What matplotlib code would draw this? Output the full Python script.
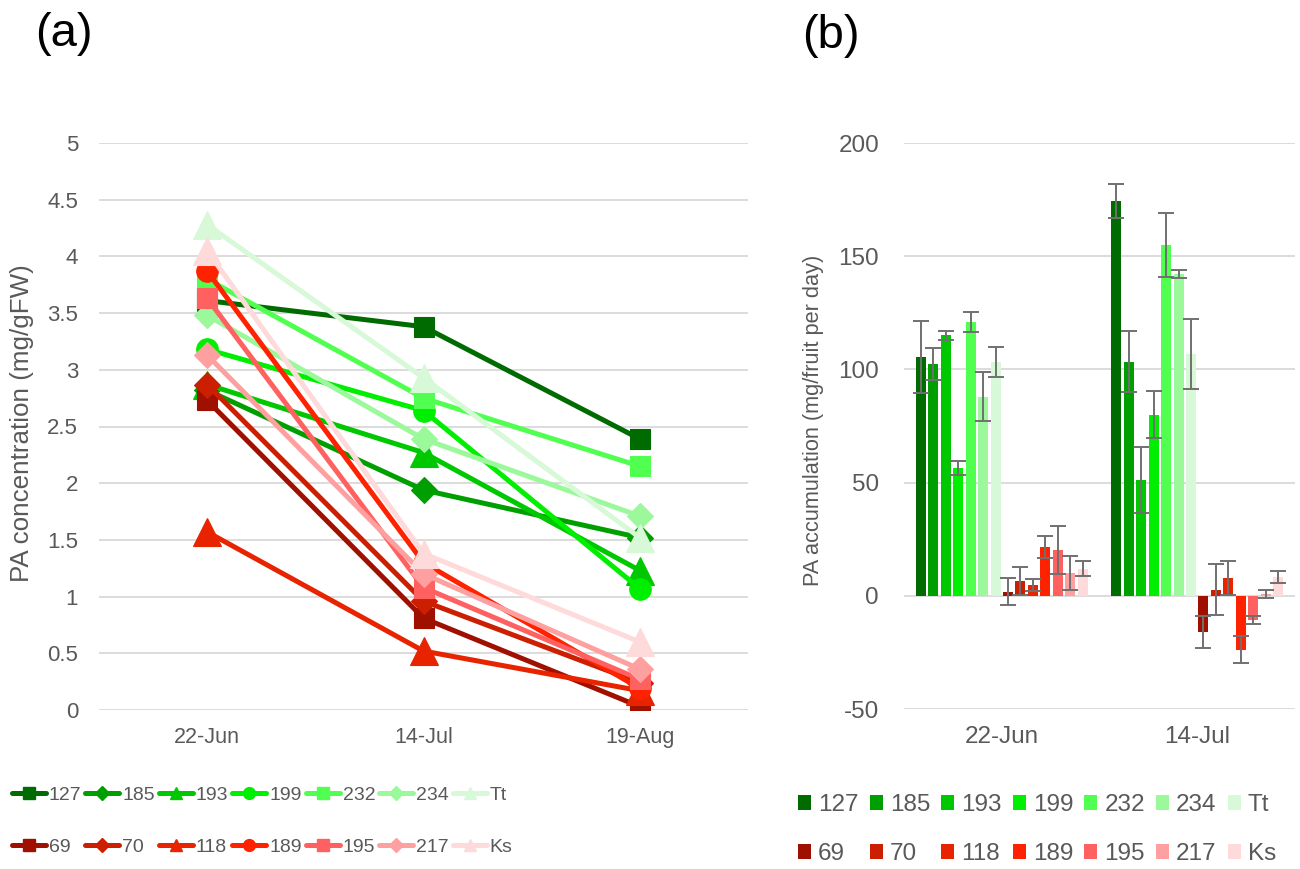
import matplotlib
matplotlib.use("Agg")
import matplotlib.pyplot as plt
from matplotlib.lines import Line2D
from matplotlib.patches import Patch
from matplotlib import font_manager
import numpy as np

plt.rcParams['font.family'] = ['Liberation Sans', 'DejaVu Sans']
plt.rcParams['axes.unicode_minus'] = False

# ---------------- data ----------------
dates_a = ['22-Jun', '14-Jul', '19-Aug']
dates_b = ['22-Jun', '14-Jul']

green_names = ['127', '185', '193', '199', '232', '234', 'Tt']
red_names = ['69', '70', '118', '189', '195', '217', 'Ks']

green_colors = ['#006B00', '#009F00', '#00C800', '#00EE00', '#50FF50', '#9BF89B', '#D7F9D7']
red_colors = ['#A01000', '#CC1E00', '#E82300', '#FF2200', '#FF6060', '#FFA0A0', '#FFDADA']
markers = ['s', 'D', '^', 'o', 's', 'D', '^']

# (a) PA concentration (mg/gFW)
conc_green = [
    [3.61, 3.38, 2.39],   # 127
    [2.82, 1.94, 1.52],   # 185
    [2.87, 2.27, 1.23],   # 193
    [3.18, 2.64, 1.07],   # 199
    [3.80, 2.75, 2.15],   # 232
    [3.48, 2.39, 1.71],   # 234
    [4.28, 2.93, 1.52],   # Tt
]
conc_red = [
    [2.73, 0.81, 0.03],   # 69
    [2.87, 0.96, 0.24],   # 70
    [1.57, 0.52, 0.17],   # 118
    [3.87, 1.30, 0.19],   # 189
    [3.63, 1.08, 0.27],   # 195
    [3.13, 1.20, 0.36],   # 217
    [4.05, 1.38, 0.60],   # Ks
]

# (b) PA accumulation (mg/fruit per day): [22-Jun, 14-Jul]
acc_green = [
    [105.5, 174.5],
    [102.4, 103.3],
    [115.0, 51.2],
    [56.5, 80.0],
    [121.0, 155.0],
    [88.0, 142.2],
    [103.3, 106.8],
]
err_green = [
    [16.0, 7.5],
    [7.0, 13.5],
    [2.0, 14.6],
    [3.0, 10.3],
    [4.5, 14.2],
    [11.0, 1.8],
    [6.5, 15.6],
]
acc_red = [
    [1.8, -15.9],
    [6.6, 2.6],
    [4.8, 7.9],
    [21.6, -23.8],
    [20.3, -10.6],
    [10.1, 0.8],
    [11.9, 8.4],
]
err_red = [
    [6.0, 7.0],
    [6.3, 11.3],
    [2.7, 7.5],
    [5.0, 6.0],
    [10.6, 1.8],
    [7.5, 1.8],
    [3.3, 2.6],
]

# ---------------- styling ----------------
TXT = '#595959'
GRID = '#D9D9D9'
W, H = 1300, 869

ms_map = {'s': 15, 'D': 13, '^': 19.5, 'o': 15.5}
ms_leg = {'s': 8, 'D': 7.5, '^': 9, 'o': 8.5}

fig = plt.figure(figsize=(13, 8.69), dpi=100)

# ---------- panel (a) ----------
axa = fig.add_axes([99 / W, 1 - 710 / H, 649 / W, 567 / H])
xa = np.arange(len(dates_a))
names_all = green_names + red_names
colors_all = green_colors + red_colors
conc_all = conc_green + conc_red
marks_all = markers + markers
for name, col, mk, vals in zip(names_all, colors_all, marks_all, conc_all):
    axa.plot(xa, vals, color=col, lw=3.6, marker=mk, ms=ms_map[mk],
             mfc=col, mec=col, mew=0.8, solid_joinstyle='round', zorder=3)
axa.set_xlim(-0.5, len(dates_a) - 0.5)
axa.set_ylim(0, 5)
axa.set_yticks(np.arange(0, 5.01, 0.5))
axa.set_yticklabels(['0', '0.5', '1', '1.5', '2', '2.5', '3', '3.5', '4', '4.5', '5'])
axa.set_xticks(xa)
axa.set_xticklabels(dates_a)
axa.yaxis.grid(True, color=GRID, lw=1.3)
axa.set_axisbelow(True)
for s in axa.spines.values():
    s.set_visible(False)
axa.tick_params(axis='y', length=0, labelsize=16, labelcolor=TXT, pad=15)
axa.tick_params(axis='x', length=0, labelsize=15.5, labelcolor=TXT, pad=12)
fig.text(22 / W, 1 - 423 / H, 'PA concentration (mg/gFW)', rotation=90,
         ha='center', va='center', fontsize=18.7, color=TXT)

# ---------- panel (b) ----------
axb = fig.add_axes([904 / W, 1 - 709 / H, 391 / W, 566 / H])
xb = np.arange(len(dates_b))
acc_all = acc_green + acc_red
err_all = err_green + err_red
slot = 0.0637
bw = 0.051
n = len(acc_all)
for i, (col, vals, errs) in enumerate(zip(colors_all, acc_all, err_all)):
    pos = xb + (i - (n - 1) / 2) * slot
    axb.bar(pos, vals, width=bw, color=col, zorder=2)
    axb.errorbar(pos, vals, yerr=errs, fmt='none', ecolor='#707070',
                 elinewidth=1.4, capsize=5.5, capthick=1.4, zorder=3)
axb.set_xlim(-0.5, len(dates_b) - 0.5)
axb.set_ylim(-50, 200)
axb.set_yticks([-50, 0, 50, 100, 150, 200])
axb.set_xticks(xb)
axb.set_xticklabels(dates_b)
axb.yaxis.grid(True, color=GRID, lw=1.3)
axb.set_axisbelow(True)
for s in axb.spines.values():
    s.set_visible(False)
axb.tick_params(axis='y', length=0, labelsize=17.5, labelcolor=TXT, pad=18)
axb.tick_params(axis='x', length=0, labelsize=17.5, labelcolor=TXT, pad=12)
fig.text(814 / W, 1 - 420 / H, 'PA accumulation (mg/fruit per day)', rotation=90,
         ha='center', va='center', fontsize=15.7, color=TXT)

# ---------- panel labels ----------
fig.text(35 / W, 1 - 34 / H, '(a)', ha='left', va='center', fontsize=34, color='black')
fig.text(802 / W, 1 - 36 / H, '(b)', ha='left', va='center', fontsize=34, color='black')

# ---------- legends ----------
narrow = any(f.name == 'Liberation Sans Narrow' for f in font_manager.fontManager.ttflist)
leg_font = {'family': 'Liberation Sans Narrow', 'size': 17} if narrow else {'family': 'Liberation Sans', 'size': 14}

def interleave(a, b):
    out = []
    for p, q in zip(a, b):
        out += [p, q]
    return out

h_g = [Line2D([], [], color=c, lw=3.6, marker=m, ms=ms_leg[m], mfc=c, mec=c,
              solid_capstyle='round') for c, m in zip(green_colors, markers)]
h_r = [Line2D([], [], color=c, lw=3.6, marker=m, ms=ms_leg[m], mfc=c, mec=c,
              solid_capstyle='round') for c, m in zip(red_colors, markers)]
leg_a = fig.legend(interleave(h_g, h_r), interleave(green_names, red_names),
                   ncol=7, loc='center left', bbox_to_anchor=(12 / W, 1 - 821 / H),
                   frameon=False, prop=leg_font, labelcolor=TXT,
                   handlelength=1.5 if narrow else 1.75, handletextpad=0.15,
                   columnspacing=0.06 if narrow else 0.2,
                   labelspacing=1.45 if narrow else 1.77,
                   borderpad=0, borderaxespad=0)

p_g = [Patch(facecolor=c, edgecolor='none') for c in green_colors]
p_r = [Patch(facecolor=c, edgecolor='none') for c in red_colors]
leg_b = fig.legend(interleave(p_g, p_r), interleave(green_names, red_names),
                   ncol=7, loc='center left', bbox_to_anchor=(798 / W, 1 - 829.5 / H),
                   frameon=False, prop={'family': 'Liberation Sans', 'size': 17.5},
                   labelcolor=TXT, handlelength=0.54, handleheight=0.54,
                   handletextpad=0.29, columnspacing=0.45, labelspacing=1.1,
                   borderpad=0, borderaxespad=0)

fig.savefig('out.png', dpi=100)
